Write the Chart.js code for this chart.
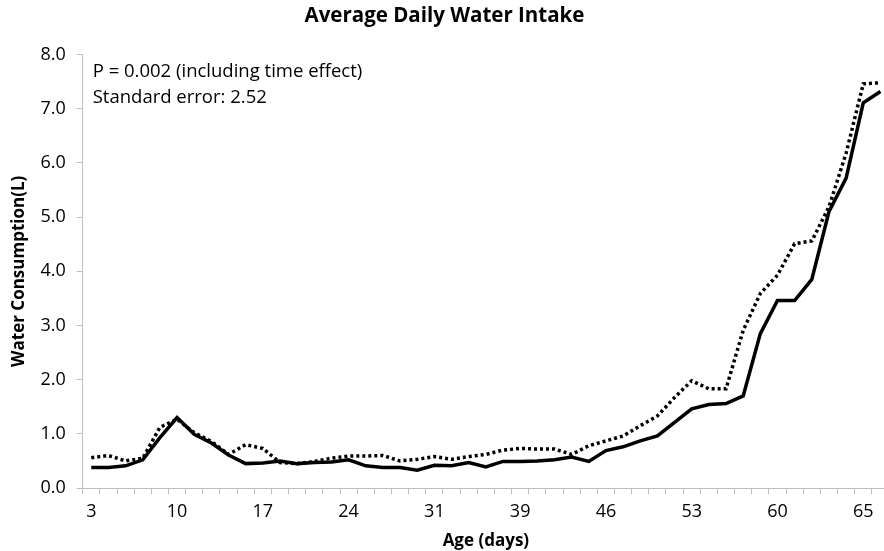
<!DOCTYPE html>
<html>
<head>
<meta charset="utf-8">
<script src="https://cdn.jsdelivr.net/npm/chart.js@4.4.0/dist/chart.umd.min.js"></script>
<style>
  html, body { margin: 0; padding: 0; background: #fff; overflow: hidden; }
  #wrap { position: relative; width: 893px; height: 551px; }
</style>
</head>
<body>
<div id="wrap"><canvas id="myChart"></canvas></div>
<script>
// tick labels shown on the x axis, one every 5 measurement days
const tickLabels = ['3', '10', '17', '24', '31', '39', '46', '53', '60', '65']
const labelEvery = 5

// water consumption (L)
const solidSeries = [
  0.38, 0.38, 0.41, 0.52, 0.93, 1.30, 0.99, 0.83, 0.61, 0.45,
  0.46, 0.50, 0.45, 0.47, 0.48, 0.52, 0.41, 0.38, 0.38, 0.33,
  0.42, 0.41, 0.47, 0.39, 0.49, 0.49, 0.50, 0.52, 0.57, 0.49,
  0.69, 0.76, 0.87, 0.96, 1.21, 1.46, 1.54, 1.56, 1.70, 2.85,
  3.46, 3.46, 3.85, 5.10, 5.72, 7.11, 7.32
]
const dottedSeries = [
  0.56, 0.60, 0.50, 0.55, 1.12, 1.27, 1.02, 0.86, 0.62, 0.80,
  0.73, 0.47, 0.45, 0.49, 0.55, 0.59, 0.59, 0.60, 0.50, 0.53,
  0.58, 0.53, 0.58, 0.62, 0.70, 0.73, 0.72, 0.72, 0.62, 0.78,
  0.87, 0.96, 1.15, 1.33, 1.67, 1.98, 1.83, 1.83, 2.91, 3.59,
  3.93, 4.51, 4.56, 5.19, 6.18, 7.46, 7.48
]

const noteLines = ['P = 0.002 (including time effect)', 'Standard error: 2.52']
const noteValues = [7.69, 7.2]

let categories = []
for (let i = 0; i < solidSeries.length; i++) {
  categories.push(i % labelEvery == 0 ? tickLabels[i / labelEvery] : '')
}

const fontName = '"Open Sans", sans-serif'
const axisGrey = '#bfbfbf'

// the two text lines in the top left corner
const notePlugin = {
  id: 'note',
  afterDraw(chart) {
    const ctx = chart.ctx
    const y = chart.scales.y
    ctx.save()
    ctx.font = '18.5px ' + fontName
    ctx.fillStyle = '#000'
    ctx.textBaseline = 'middle'
    for (let i = 0; i < noteLines.length; i++) {
      ctx.fillText(noteLines[i], chart.chartArea.left + 10, y.getPixelForValue(noteValues[i]))
    }
    ctx.restore()
  }
}

let config = {
  type: 'line',
  data: {
    labels: categories,
    datasets: [{
      label: 'solid',
      data: solidSeries,
      borderColor: '#000',
      borderWidth: 3.5,
      pointRadius: 0,
      tension: 0,
      fill: false
    }, {
      label: 'dotted',
      data: dottedSeries,
      borderColor: '#000',
      borderWidth: 3.5,
      borderDash: [3, 3],
      pointRadius: 0,
      tension: 0,
      fill: false
    }]
  },
  options: {
    responsive: false,
    animation: false,
    devicePixelRatio: 1,
    layout: { padding: { left: 0, right: 4, top: 0, bottom: 0 } },
    plugins: {
      legend: { display: false },
      tooltip: { enabled: false },
      title: {
        display: true,
        text: 'Average Daily Water Intake',
        color: '#000',
        font: { family: fontName, size: 20.5, weight: 'bold' },
        padding: { top: 4, bottom: 26 }
      }
    },
    scales: {
      x: {
        offset: true,
        grid: { offset: true, drawOnChartArea: false, drawTicks: true, tickLength: 6, color: axisGrey },
        border: { color: axisGrey, width: 1 },
        ticks: { autoSkip: false, maxRotation: 0, color: '#000', padding: 7.5, font: { family: fontName, size: 18 } },
        title: {
          display: true,
          text: 'Age (days)',
          color: '#000',
          font: { family: fontName, size: 17, weight: 'bold' },
          padding: { top: 0, bottom: 0 }
        }
      },
      y: {
        min: 0,
        max: 8,
        grid: { drawOnChartArea: false, drawTicks: true, tickLength: 6, color: axisGrey },
        border: { color: axisGrey, width: 1 },
        ticks: {
          stepSize: 1,
          color: '#000',
          padding: 11,
          font: { family: fontName, size: 18 },
          callback: function(v) { return v.toFixed(1) }
        },
        title: {
          display: true,
          text: 'Water Consumption(L)',
          color: '#000',
          font: { family: fontName, size: 17, weight: 'bold' },
          padding: { top: 9, bottom: 0 }
        }
      }
    }
  },
  plugins: [notePlugin]
}

const cv = document.getElementById('myChart')
cv.width = 893
cv.height = 551
var chart = new Chart(cv, config)
</script>
</body>
</html>
